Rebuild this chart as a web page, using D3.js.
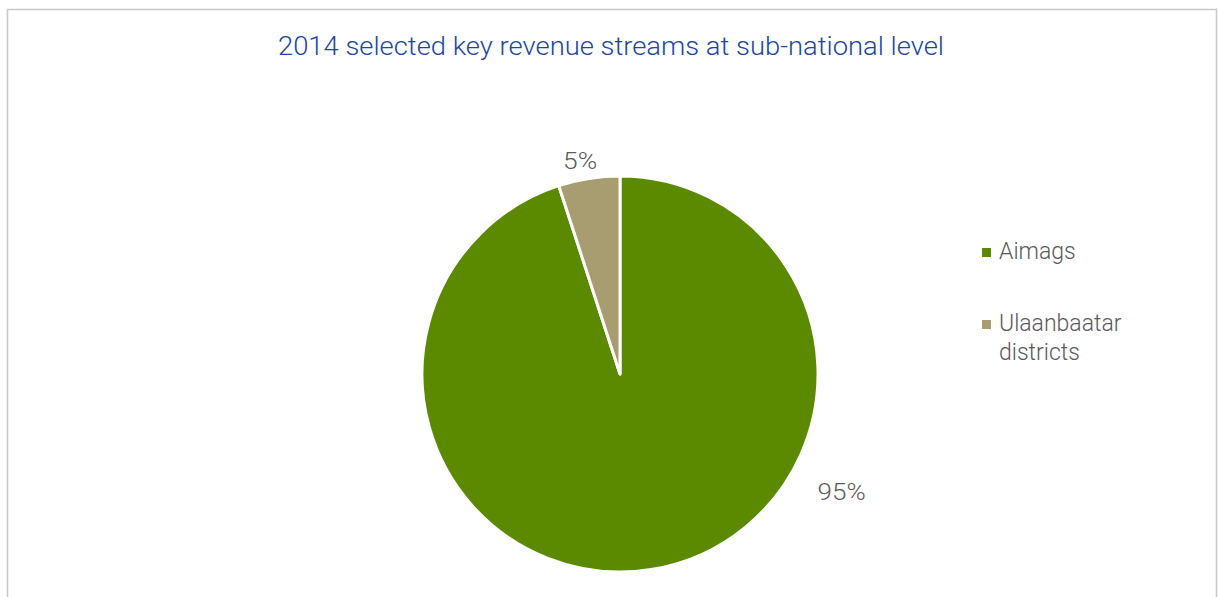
<!DOCTYPE html>
<html><head><meta charset="utf-8">
<script src="https://cdn.jsdelivr.net/npm/d3@7"></script>
<style>html,body{margin:0;padding:0;background:#fff;}svg{display:block;}</style>
</head><body>
<svg id="c" width="1218" height="597"></svg>
<script>
const title = "2014 selected key revenue streams at sub-national level";
const categories = ["Aimags", "Ulaanbaatar districts"];
const values = [95, 5];
const valueLabels = ["95%", "5%"];
const colors = ["#5b8a00", "#a89d70"];

const svg = d3.select("#c");
const font = "Roboto, 'Liberation Sans', Arial, sans-serif";

// frame
svg.append("rect").attr("x", 7.5).attr("y", 9.5).attr("width", 1209).attr("height", 620)
  .attr("fill", "#fff").attr("stroke", "#c8c8c8").attr("stroke-width", 1.5);

// title
svg.append("text").attr("x", 611).attr("y", 55).attr("text-anchor", "middle")
  .attr("font-family", font).attr("font-weight", 300).attr("font-size", 25)
  .attr("textLength", 666).attr("lengthAdjust", "spacingAndGlyphs")
  .attr("fill", "#1c47a0").text(title);

// pie
const cx = 620, cy = 374, R = 198;
const pie = d3.pie().sort(null).startAngle(0).endAngle(2 * Math.PI);
const arcs = pie(values);
const arc = d3.arc().innerRadius(0).outerRadius(R);
const g = svg.append("g").attr("transform", `translate(${cx},${cy})`);
g.selectAll("path").data(arcs).join("path")
  .attr("d", arc).attr("fill", (d, i) => colors[i])
  .attr("stroke", "#fff").attr("stroke-width", 3).attr("stroke-linejoin", "round");

// data labels (outside end, best fit placement)
const labelPos = [{ang: 118, r: 251, w: 48}, {ang: -10.6, r: 217, w: 34}];
g.selectAll("text.lbl").data(arcs).join("text").attr("class", "lbl")
  .attr("x", (d, i) => Math.sin(labelPos[i].ang * Math.PI / 180) * labelPos[i].r)
  .attr("y", (d, i) => -Math.cos(labelPos[i].ang * Math.PI / 180) * labelPos[i].r)
  .attr("dy", "0.35em").attr("text-anchor", "middle")
  .attr("font-family", font).attr("font-weight", 300).attr("font-size", 23)
  .attr("textLength", (d, i) => labelPos[i].w).attr("lengthAdjust", "spacingAndGlyphs")
  .attr("fill", "#595959").text((d, i) => valueLabels[i]);

// legend
const lg = svg.append("g").attr("transform", "translate(982,248)");
const legendRows = [["Aimags"], ["Ulaanbaatar", "districts"]];
const rowY = [0, 72];
legendRows.forEach((lines, i) => {
  lg.append("rect").attr("x", 0).attr("y", rowY[i]).attr("width", 9).attr("height", 9).attr("fill", colors[i]);
  const t = lg.append("text").attr("x", 17).attr("y", rowY[i] + 11)
    .attr("font-family", font).attr("font-weight", 300).attr("font-size", 23).attr("fill", "#595959");
  lines.forEach((ln, j) => t.append("tspan").attr("x", 17).attr("dy", j === 0 ? 0 : 29).text(ln));
});
</script>
</body></html>
